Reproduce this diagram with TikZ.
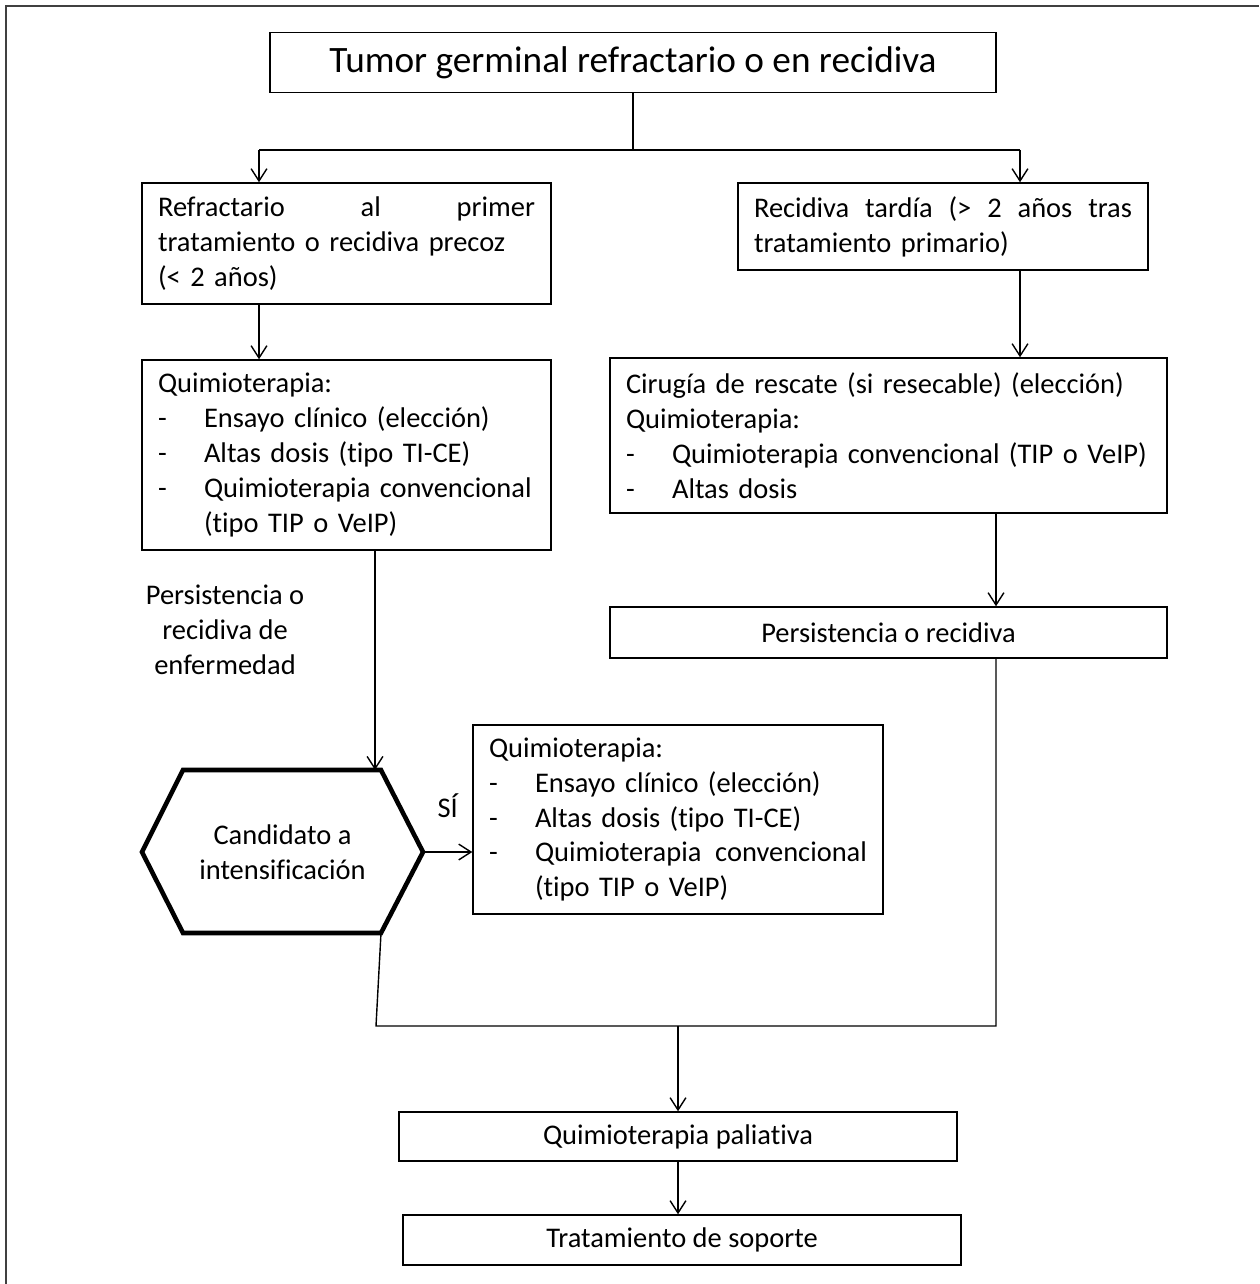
\documentclass[tikz,border=0pt]{standalone}
\usepackage{fontspec}
\setmainfont{Carlito}[Ligatures=NoCommon]
\usetikzlibrary{arrows.meta,positioning,calc}
\newcommand{\guion}{\makebox[0.92cm][l]{-}}

\begin{document}
\begin{tikzpicture}[
    x=0.02cm, y=-0.02cm,
    caja/.style={draw, line width=0.85pt, inner xsep=0.32cm, inner ysep=0pt, align=left, font=\fontsize{16.2}{19.9}\selectfont},
    flecha/.style={-{Straight Barb[length=7pt,width=9pt]}, line width=0.8pt},
    linea/.style={line width=0.8pt},
    hexa/.style={line width=2.6pt, line join=miter}
]
\useasboundingbox (0,0) rectangle (1259,1284);
\draw[line width=1.1pt, black!75] (6,1284) -- (6,6) -- (1259,6);

\node[caja, align=center, minimum width=14.52cm, minimum height=1.2cm, font=\fontsize{21.2}{26}\selectfont] (titulo) at (633,62.5) {Tumor germinal refractario o en recidiva};
\node[caja, text width=7.54cm, minimum height=2.42cm] (refr) at (346.5,243.5) {\hbox to 7.54cm{Refractario\hfill al\hfill primer}\\tratamiento o recidiva precoz\\(< 2 años)};
\node[caja, text width=7.56cm, minimum height=1.74cm] (tardia) at (943,226.5) {\hbox to 7.56cm{Recidiva\hfill tardía\hfill (>\hfill 2\hfill años\hfill tras}\\tratamiento primario)};
\node[caja, text width=7.54cm, minimum height=3.8cm] (qt1) at (346.5,455) {Quimioterapia:\\\guion Ensayo clínico (elección)\\\guion Altas dosis (tipo TI-CE)\\\guion Quimioterapia convencional\\\hspace*{0.92cm}(tipo TIP o VeIP)};
\node[caja, text width=10.5cm, minimum height=3.1cm] (ciru) at (888.5,435.5) {Cirugía de rescate (si resecable) (elección)\\Quimioterapia:\\\guion Quimioterapia convencional (TIP o VeIP)\\\guion Altas dosis};
\node[caja, align=center, minimum width=11.14cm, minimum height=1.02cm] (persist) at (888.5,632.5) {Persistencia o recidiva};
\node[align=center, font=\fontsize{16.2}{19.9}\selectfont] (enfer) at (225,630) {Persistencia o\\recidiva de\\enfermedad};
\node[align=center, font=\fontsize{16.2}{19.9}\selectfont] (cand) at (282.5,852) {Candidato a\\intensificación};
\node[caja, text width=7.56cm, minimum height=3.78cm] (qt2) at (678,819.5) {Quimioterapia:\\\guion Ensayo clínico (elección)\\\guion Altas dosis (tipo TI-CE)\\\guion \hbox to 6.64cm{Quimioterapia\hfill convencional}\\\hspace*{0.92cm}(tipo TIP o VeIP)};
\node[caja, align=center, minimum width=11.16cm, minimum height=0.98cm] (paliativa) at (678,1136.5) {Quimioterapia paliativa};
\node[caja, align=center, minimum width=11.16cm, minimum height=1.0cm] (soporte) at (682,1240) {Tratamiento de soporte};

% hexagono de decision
\coordinate (hexW) at (142,852);
\coordinate (hexNW) at (183,770);
\coordinate (hexNE) at (381,770);
\coordinate (hexE) at (423,852);
\coordinate (hexSE) at (381,933);
\coordinate (hexSW) at (183,933);
\coordinate (hexN) at (375,770);
\draw[hexa] (hexW) -- (hexNW) -- (hexNE) -- (hexE) -- (hexSE) -- (hexSW) -- cycle;

% conectores
\coordinate (ramaI) at (259,150);
\coordinate (ramaD) at (1020,150);
\coordinate (ejeD) at (996,1026);
\coordinate (junta) at (376,1026);
\draw[linea] (titulo.south) -- (titulo.south |- ramaI);
\draw[linea] (ramaI) -- (ramaD);
\draw[flecha] (ramaI) -- (ramaI |- refr.north);
\draw[flecha] (ramaD) -- (ramaD |- tardia.north);
\draw[flecha] (ramaI |- refr.south) -- (ramaI |- qt1.north);
\draw[flecha] (ramaD |- tardia.south) -- (ramaD |- ciru.north);
\draw[flecha] (ejeD |- ciru.south) -- (ejeD |- persist.north);
\draw[flecha] (qt1.south -| hexN) -- (hexN);
\draw[flecha] (hexE) -- node[above=0.55cm, font=\fontsize{16.2}{19.9}\selectfont] (si) {SÍ} (hexE -| qt2.west);
\draw[linea] (hexSE) -- (junta) -- (ejeD) -- (ejeD |- persist.south);
\draw[flecha] (paliativa.north |- ejeD) -- (paliativa.north);
\draw[flecha] (paliativa.south) -- (paliativa.south |- soporte.north);
\end{tikzpicture}
\end{document}
